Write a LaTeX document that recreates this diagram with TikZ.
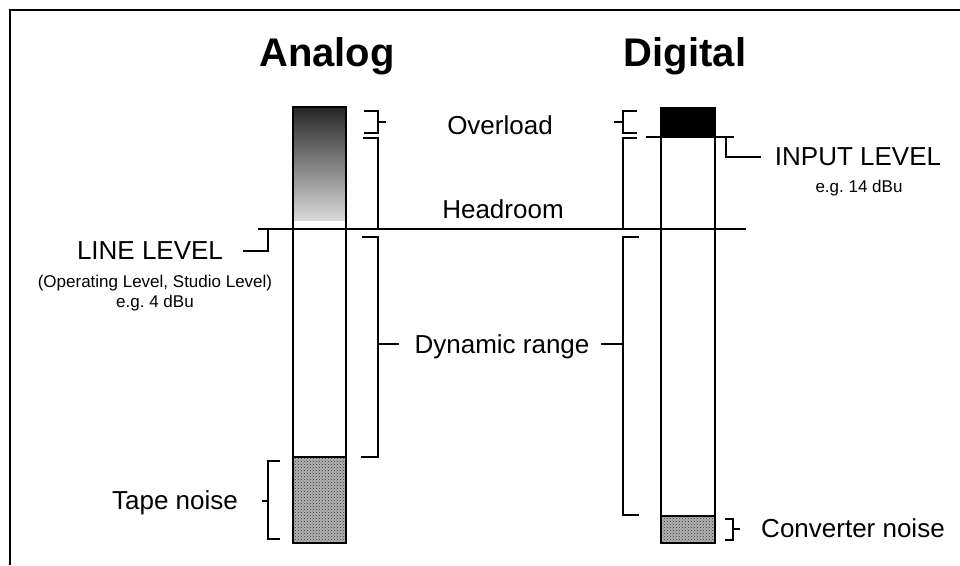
\documentclass[tikz,border=0pt]{standalone}
\usepackage{fontspec}
\setmainfont{Liberation Sans}
\usetikzlibrary{positioning,patterns}
\frenchspacing

\tikzset{
  colbox/.style={draw, line width=1.5pt},
  bracket/.style={line width=1.8pt},
  noisefill/.style={pattern=crosshatch dots, pattern color=black!80},
  lvltext/.style={font=\fontsize{26}{30}\selectfont, inner sep=0pt, text depth=0pt},
  smalltext/.style={font=\fontsize{17}{20}\selectfont, inner sep=0pt, text depth=0pt},
  heading/.style={font=\bfseries\fontsize{40}{46}\selectfont, inner sep=0pt, text depth=0pt}
}

\begin{document}
\begin{tikzpicture}[x=1pt,y=-1pt]
  \useasboundingbox (0,0) rectangle (960,565);
  % Frame
  \draw[line width=1.5pt] (10,565) -- (10,10) -- (960,10);

  % Headings
  \node[heading] (analog) at (327,52) {Analog};
  \node[heading] (digital) at (685,52) {Digital};

  % Analog column
  \shade[top color=black!85, bottom color=black!15] (293,107) rectangle (346,220);
  \fill[black!30] (293,457) rectangle (346,543);
  \fill[noisefill] (293,457) rectangle (346,543);
  \draw[colbox] (293,107) rectangle (346,543);
  \draw[colbox] (293,457) -- (346,457);

  % Digital column
  \fill[black] (661,108) rectangle (715,137);
  \fill[black!30] (661,516) rectangle (715,543);
  \fill[noisefill] (661,516) rectangle (715,543);
  \draw[colbox] (661,108) rectangle (715,543);
  \draw[colbox] (661,516) -- (715,516);

  % Line level and input level
  \coordinate (lineL) at (258,229);
  \coordinate (lineR) at (746,229);
  \draw[line width=2.5pt] (lineL) -- (lineR);
  \coordinate (inL) at (646,137);
  \coordinate (inR) at (734,137);
  \draw[line width=2pt] (inL) -- (inR);

  % Analog brackets
  \draw[bracket] (364,111) -- (378,111) -- (378,133) -- (364,133);
  \draw[bracket] (378,122) -- (386,122);
  \draw[bracket] (363,138) -- (378,138) -- (378,229);
  \draw[bracket] (362,237) -- (378,237) -- (378,457) -- (361,457);
  \coordinate (dynL) at (378,344);
  \draw[bracket] (280,461) -- (268,461) -- (268,539) -- (280,539);
  \draw[bracket] (268,501) -- (262,501);

  % Digital brackets
  \draw[bracket] (637,111) -- (623,111) -- (623,133) -- (637,133);
  \draw[bracket] (623,122) -- (614,122);
  \draw[bracket] (637,138) -- (623,138) -- (623,229);
  \draw[bracket] (639,237) -- (623,237) -- (623,515) -- (639,515);
  \coordinate (dynR) at (623,344);
  \draw[bracket] (725,519) -- (733,519) -- (733,540) -- (725,540);
  \draw[bracket] (733,529) -- (740,529);

  % Labels
  \node[lvltext] (overload) at (500,125) {Overload};
  \node[lvltext] (headroom) at (503,209) {Headroom};
  \node[lvltext] (dynrange) at (502,344) {Dynamic range};
  \node[lvltext] (tapenoise) at (175,500) {Tape noise};
  \node[lvltext] (convnoise) at (853,528) {Converter noise};

  \node[lvltext] (linelvl) at (150,251) {LINE LEVEL};
  \node[smalltext] (oplvl) at (155,281) {(Operating Level, Studio Level)};
  \node[smalltext] (lineeg) at (155,301) {e.g. 4 dBu};

  \node[lvltext] (inputlvl) at (858,157) {INPUT LEVEL};
  \node[smalltext] (inputeg) at (859,186) {e.g. 14 dBu};

  % Leaders
  \coordinate (linept) at (268,229);
  \draw[bracket] ([xshift=20pt]linelvl.east) -| (linept);
  \coordinate (inpt) at (726,137);
  \draw[bracket] ([xshift=-14pt]inputlvl.west) -| (inpt);
  \draw[bracket] (dynL) -- ([xshift=-15pt]dynrange.west);
  \draw[bracket] (dynR) -- ([xshift=11pt]dynrange.east);
\end{tikzpicture}
\end{document}
